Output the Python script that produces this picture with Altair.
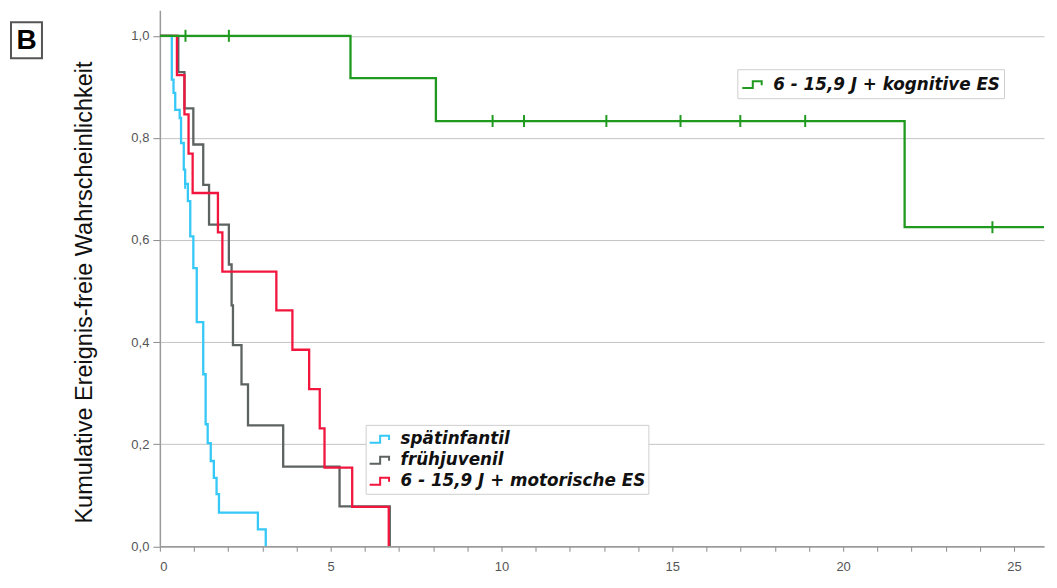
import altair as alt
import pandas as pd

# ---------------- data ----------------
# spätinfantil
blue_t = [0, 0.35, 0.40, 0.45, 0.58, 0.62, 0.70, 0.74, 0.82, 0.89, 0.98, 1.08,
          1.27, 1.34, 1.40, 1.49, 1.58, 1.66, 1.73, 2.87, 3.10]
blue_s = [1.0, 0.914, 0.888, 0.855, 0.839, 0.790, 0.738, 0.710, 0.676, 0.607, 0.545, 0.439,
          0.337, 0.239, 0.202, 0.167, 0.134, 0.102, 0.066, 0.033, 0.0]
blue_cens_t = [0.74]
blue_cens_s = [0.710]

# frühjuvenil
grey_t = [0, 0.54, 0.72, 0.98, 1.27, 1.44, 2.02, 2.10, 2.14, 2.39, 2.58, 3.61, 5.26, 6.73]
grey_s = [1.0, 0.929, 0.858, 0.787, 0.708, 0.630, 0.552, 0.472, 0.394, 0.317, 0.237, 0.156, 0.078, 0.0]

# 6 - 15,9 J + motorische ES
red_t = [0, 0.50, 0.72, 0.84, 0.96, 1.70, 1.83, 3.41, 3.88, 4.37, 4.68, 4.82, 5.63, 6.70]
red_s = [1.0, 0.923, 0.846, 0.769, 0.692, 0.615, 0.538, 0.462, 0.385, 0.308, 0.231, 0.154, 0.077, 0.0]

# 6 - 15,9 J + kognitive ES
green_t = [0, 5.58, 8.08, 21.8, 26.5]
green_s = [1.0, 0.917, 0.833, 0.625, 0.625]
green_cens_t = [0.75, 2.02, 9.74, 10.66, 13.07, 15.24, 16.99, 18.89, 24.37]
green_cens_s = [1.0, 1.0, 0.833, 0.833, 0.833, 0.833, 0.833, 0.833, 0.625]

names_b = ["spätinfantil", "frühjuvenil", "6 - 15,9 J + motorische ES"]
colors_b = ["#36C8F6", "#5C6361", "#F2163F"]
name_g = "6 - 15,9 J + kognitive ES"
color_g = "#1F9A1F"

y_ticks = [0.0, 0.2, 0.4, 0.6, 0.8, 1.0]
x_ticks = list(range(0, 26))

# ---------------- frames ----------------
def frame(t, s, name):
    return pd.DataFrame({"t": t, "s": s, "group": [name] * len(t)})

df_blue = frame(blue_t, blue_s, names_b[0])
df_grey = frame(grey_t, grey_s, names_b[1])
df_red = frame(red_t, red_s, names_b[2])
df_green = frame(green_t, green_s, name_g)
df_gc = pd.DataFrame({"t": green_cens_t, "s": green_cens_s})
df_bc = pd.DataFrame({"t": blue_cens_t, "s": blue_cens_s})

STEP_PATH = "M-1,0.32L0,0.32L0,-0.34L0.85,-0.34L0.85,0.05"
FONT = "Liberation Sans"

X = alt.X(
    "t:Q",
    scale=alt.Scale(domain=[0, 25.88], nice=False, zero=True),
    axis=alt.Axis(
        values=x_ticks,
        labelExpr="datum.value % 5 === 0 ? datum.label : ''",
        grid=False,
        tickSize=5,
        tickColor="#8a8a8a",
        domainColor="#9a9a9a",
        domainWidth=1.5,
        labelFont=FONT,
        labelFontSize=13,
        labelColor="#555555",
        labelPadding=9,
        title=None,
    ),
)
Y = alt.Y(
    "s:Q",
    scale=alt.Scale(domain=[0, 1.05], nice=False),
    axis=alt.Axis(
        values=y_ticks,
        labelExpr="replace(format(datum.value, '.1f'), '.', ',')",
        grid=True,
        gridColor="#c4c4c4",
        gridWidth=1,
        tickSize=7,
        tickColor="#8a8a8a",
        domainColor="#9a9a9a",
        domainWidth=1.5,
        labelFont=FONT,
        labelFontSize=13,
        labelColor="#555555",
        labelPadding=4,
        title="Kumulative Ereignis-freie Wahrscheinlichkeit",
        titleFont=FONT,
        titleFontSize=23.5,
        titleFontWeight="normal",
        titleColor="#111111",
        titleX=-75,
        titleY=282,
        titleAlign="center",
        titleBaseline="middle",
        titleAngle=270,
    ),
)

legend_common = dict(
    orient="none",
    fillColor="white",
    strokeColor="#cfcfcf",
    symbolType=STEP_PATH,
    symbolSize=441,
    symbolStrokeWidth=2,
    symbolFillColor="transparent",
    labelFont="DejaVu Sans",
    labelFontSize=16.8,
    labelFontWeight="bold",
    labelFontStyle="italic",
    labelColor="#111111",
    labelOffset=9,
    labelLimit=500,
    rowPadding=0,
)

legend_b = alt.Legend(legendX=206, legendY=415, padding=3, **legend_common)
legend_g = alt.Legend(legendX=578, legendY=59, padding=4, **legend_common)

color_b = alt.Color("group:N", title=None,
                    scale=alt.Scale(domain=names_b, range=colors_b),
                    legend=legend_b)
color_gr = alt.Color("group:N", title=None,
                     scale=alt.Scale(domain=[name_g], range=[color_g]),
                     legend=legend_g)

def km(df, color):
    return alt.Chart(df).mark_line(interpolate="step-after", strokeWidth=2.3, clip=True).encode(
        x=X, y=Y, color=color
    )

blue_line = km(df_blue, color_b)
grey_line = km(df_grey, color_b)
red_line = km(df_red, color_b)
green_line = km(df_green, color_gr)

green_cens = alt.Chart(df_gc).mark_point(
    shape="M0,-1L0,1", size=144, strokeWidth=2, color=color_g, filled=False, opacity=1
).encode(x=X, y=Y)
blue_cens = alt.Chart(df_bc).mark_point(
    shape="M0,-1L0,1", size=100, strokeWidth=2, color=colors_b[0], filled=False, opacity=1
).encode(x=X, y=Y)

df_lab = pd.DataFrame({"label": ["B"]})
b_box = alt.Chart(df_lab).mark_rect(fill="white", stroke="#555555", strokeWidth=2).encode(
    x=alt.value(-149), x2=alt.value(-118), y=alt.value(12), y2=alt.value(48)
)
b_text = alt.Chart(df_lab).mark_text(
    font=FONT, fontSize=28, fontWeight="bold", color="black", align="center", baseline="middle"
).encode(x=alt.value(-133.5), y=alt.value(31), text="label:N")

group_b = alt.layer(blue_line, grey_line, red_line)
group_g = alt.layer(green_line, green_cens, blue_cens)

chart = (
    alt.layer(group_b, group_g, b_box, b_text)
    .resolve_scale(color="independent")
    .properties(
        width=885,
        height=536.5,
        autosize=alt.AutoSizeParams(type="none"),
        padding={"left": 152, "top": 2, "right": 5, "bottom": 32},
        background="white",
    )
    .configure_view(stroke="transparent")
)

chart.save("out.html", embed_options={"renderer": "svg", "actions": False})
